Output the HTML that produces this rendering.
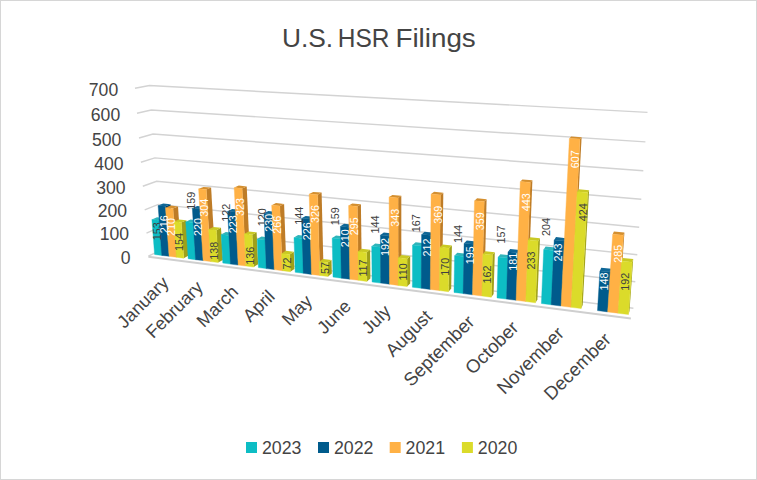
<!DOCTYPE html>
<html><head><meta charset="utf-8"><style>
html,body{margin:0;padding:0;background:#fff}
body{width:757px;height:480px;overflow:hidden;position:relative}
svg{position:absolute;left:0;top:0;font-family:"Liberation Sans",sans-serif}
.frame{position:absolute;left:0;top:0;width:755px;height:478px;border:1px solid #d6d6d6}
</style></head><body>
<svg width="757" height="480" viewBox="0 0 757 480">
<polyline points="148.4,256.2 161.7,249.7 633.4,308.3" fill="none" stroke="#d3d3d3" stroke-width="1.45"/>
<polyline points="146.5,233.2 160.0,227.2 635.3,281.7" fill="none" stroke="#d3d3d3" stroke-width="1.45"/>
<polyline points="144.7,209.9 158.3,204.4 637.3,254.7" fill="none" stroke="#d3d3d3" stroke-width="1.45"/>
<polyline points="142.8,186.3 156.6,181.3 639.2,227.2" fill="none" stroke="#d3d3d3" stroke-width="1.45"/>
<polyline points="140.9,162.3 154.8,157.9 641.3,199.3" fill="none" stroke="#d3d3d3" stroke-width="1.45"/>
<polyline points="139.0,138.0 153.0,134.1 643.3,170.8" fill="none" stroke="#d3d3d3" stroke-width="1.45"/>
<polyline points="137.0,113.3 151.2,110.0 645.4,141.9" fill="none" stroke="#d3d3d3" stroke-width="1.45"/>
<polyline points="135.0,88.3 149.4,85.6 647.5,112.4" fill="none" stroke="#d3d3d3" stroke-width="1.45"/>
<line x1="148.4" y1="256.7" x2="630.9" y2="318.4" stroke="#cfcfcf" stroke-width="2"/>
<polygon points="161.8,255.4 166.8,252.9 164.2,218.0 159.2,220.2" fill="#0b8f95"/>
<polygon points="151.9,219.4 157.0,217.2 164.2,218.0 159.2,220.2" fill="#2fb4ba"/>
<polygon points="154.6,254.5 151.9,219.4 159.2,220.2 161.8,255.4" fill="#0dbdc4" stroke="#0dbdc4" stroke-width="0.4"/>
<polygon points="169.1,256.3 174.0,253.8 170.5,204.2 165.4,206.3" fill="#00426a"/>
<polygon points="158.1,205.5 163.2,203.4 170.5,204.2 165.4,206.3" fill="#0f6797"/>
<polygon points="161.8,255.4 158.1,205.5 165.4,206.3 169.1,256.3" fill="#005b8c" stroke="#005b8c" stroke-width="0.4"/>
<polygon points="176.4,257.2 181.3,254.7 178.0,206.4 173.0,208.5" fill="#be7c27"/>
<polygon points="165.5,207.7 170.6,205.6 178.0,206.4 173.0,208.5" fill="#d48f2f"/>
<polygon points="169.1,256.3 165.5,207.7 173.0,208.5 176.4,257.2" fill="#ffb145" stroke="#ffb145" stroke-width="0.4"/>
<polygon points="183.8,258.2 188.6,255.6 186.3,220.2 181.3,222.5" fill="#9fa019"/>
<polygon points="173.9,221.6 178.9,219.4 186.3,220.2 181.3,222.5" fill="#c9c924"/>
<polygon points="176.4,257.2 173.9,221.6 181.3,222.5 183.8,258.2" fill="#dbdb2a" stroke="#dbdb2a" stroke-width="0.4"/>
<polygon points="195.6,259.7 200.4,257.1 198.1,220.4 193.2,222.6" fill="#0b8f95"/>
<polygon points="185.7,221.8 190.6,219.6 198.1,220.4 193.2,222.6" fill="#2fb4ba"/>
<polygon points="188.2,258.7 185.7,221.8 193.2,222.6 195.6,259.7" fill="#0dbdc4" stroke="#0dbdc4" stroke-width="0.4"/>
<polygon points="203.1,260.6 207.8,258.0 204.7,206.8 199.9,209.0" fill="#00426a"/>
<polygon points="192.3,208.2 197.2,206.1 204.7,206.8 199.9,209.0" fill="#0f6797"/>
<polygon points="195.6,259.7 192.3,208.2 199.9,209.0 203.1,260.6" fill="#005b8c" stroke="#005b8c" stroke-width="0.4"/>
<polygon points="210.7,261.6 215.3,259.0 211.1,187.6 206.3,189.6" fill="#be7c27"/>
<polygon points="198.6,188.8 203.5,186.9 211.1,187.6 206.3,189.6" fill="#d48f2f"/>
<polygon points="203.1,260.6 198.6,188.8 206.3,189.6 210.7,261.6" fill="#ffb145" stroke="#ffb145" stroke-width="0.4"/>
<polygon points="218.2,262.5 222.9,259.9 221.0,227.8 216.4,230.2" fill="#9fa019"/>
<polygon points="208.7,229.3 213.4,227.0 221.0,227.8 216.4,230.2" fill="#c9c924"/>
<polygon points="210.7,261.6 208.7,229.3 216.4,230.2 218.2,262.5" fill="#dbdb2a" stroke="#dbdb2a" stroke-width="0.4"/>
<polygon points="230.5,264.1 235.0,261.4 233.5,233.0 228.9,235.4" fill="#0b8f95"/>
<polygon points="221.2,234.5 225.8,232.1 233.5,233.0 228.9,235.4" fill="#2fb4ba"/>
<polygon points="222.8,263.1 221.2,234.5 228.9,235.4 230.5,264.1" fill="#0dbdc4" stroke="#0dbdc4" stroke-width="0.4"/>
<polygon points="238.2,265.1 242.6,262.4 240.0,209.8 235.4,212.0" fill="#00426a"/>
<polygon points="227.6,211.2 232.2,209.0 240.0,209.8 235.4,212.0" fill="#0f6797"/>
<polygon points="230.5,264.1 227.6,211.2 235.4,212.0 238.2,265.1" fill="#005b8c" stroke="#005b8c" stroke-width="0.4"/>
<polygon points="245.9,266.0 250.3,263.4 246.7,186.4 242.1,188.4" fill="#be7c27"/>
<polygon points="234.2,187.6 238.8,185.6 246.7,186.4 242.1,188.4" fill="#d48f2f"/>
<polygon points="238.2,265.1 234.2,187.6 242.1,188.4 245.9,266.0" fill="#ffb145" stroke="#ffb145" stroke-width="0.4"/>
<polygon points="253.8,267.0 258.1,264.3 256.6,232.3 252.2,234.7" fill="#9fa019"/>
<polygon points="244.4,233.8 248.8,231.4 256.6,232.3 252.2,234.7" fill="#c9c924"/>
<polygon points="245.9,266.0 244.4,233.8 252.2,234.7 253.8,267.0" fill="#dbdb2a" stroke="#dbdb2a" stroke-width="0.4"/>
<polygon points="266.3,268.6 270.6,265.9 269.4,237.5 265.1,240.0" fill="#0b8f95"/>
<polygon points="257.2,239.1 261.5,236.6 269.4,237.5 265.1,240.0" fill="#2fb4ba"/>
<polygon points="258.4,267.6 257.2,239.1 265.1,240.0 266.3,268.6" fill="#0dbdc4" stroke="#0dbdc4" stroke-width="0.4"/>
<polygon points="274.3,269.6 278.5,266.9 276.3,211.9 272.0,214.1" fill="#00426a"/>
<polygon points="264.0,213.3 268.3,211.0 276.3,211.9 272.0,214.1" fill="#0f6797"/>
<polygon points="266.3,268.6 264.0,213.3 272.0,214.1 274.3,269.6" fill="#005b8c" stroke="#005b8c" stroke-width="0.4"/>
<polygon points="282.3,270.7 286.4,267.9 284.1,203.9 279.8,206.1" fill="#be7c27"/>
<polygon points="271.7,205.3 276.0,203.1 284.1,203.9 279.8,206.1" fill="#d48f2f"/>
<polygon points="274.3,269.6 271.7,205.3 279.8,206.1 282.3,270.7" fill="#ffb145" stroke="#ffb145" stroke-width="0.4"/>
<polygon points="290.3,271.7 294.4,268.9 293.8,251.8 289.7,254.4" fill="#9fa019"/>
<polygon points="281.6,253.4 285.8,250.8 293.8,251.8 289.7,254.4" fill="#c9c924"/>
<polygon points="282.3,270.7 281.6,253.4 289.7,254.4 290.3,271.7" fill="#dbdb2a" stroke="#dbdb2a" stroke-width="0.4"/>
<polygon points="303.3,273.3 307.3,270.5 306.2,235.9 302.2,238.4" fill="#0b8f95"/>
<polygon points="294.0,237.5 298.1,235.0 306.2,235.9 302.2,238.4" fill="#2fb4ba"/>
<polygon points="295.2,272.3 294.0,237.5 302.2,238.4 303.3,273.3" fill="#0dbdc4" stroke="#0dbdc4" stroke-width="0.4"/>
<polygon points="311.5,274.4 315.4,271.5 313.9,216.7 309.9,219.1" fill="#00426a"/>
<polygon points="301.6,218.2 305.6,215.9 313.9,216.7 309.9,219.1" fill="#0f6797"/>
<polygon points="303.3,273.3 301.6,218.2 309.9,219.1 311.5,274.4" fill="#005b8c" stroke="#005b8c" stroke-width="0.4"/>
<polygon points="319.8,275.4 323.6,272.6 321.6,192.6 317.6,194.8" fill="#be7c27"/>
<polygon points="309.2,194.0 313.2,191.9 321.6,192.6 317.6,194.8" fill="#d48f2f"/>
<polygon points="311.5,274.4 309.2,194.0 317.6,194.8 319.8,275.4" fill="#ffb145" stroke="#ffb145" stroke-width="0.4"/>
<polygon points="328.1,276.5 331.8,273.6 331.5,259.9 327.7,262.6" fill="#9fa019"/>
<polygon points="319.4,261.6 323.2,258.9 331.5,259.9 327.7,262.6" fill="#c9c924"/>
<polygon points="319.8,275.4 319.4,261.6 327.7,262.6 328.1,276.5" fill="#dbdb2a" stroke="#dbdb2a" stroke-width="0.4"/>
<polygon points="341.4,278.2 345.1,275.3 344.4,236.5 340.7,239.0" fill="#0b8f95"/>
<polygon points="332.2,238.1 336.0,235.5 344.4,236.5 340.7,239.0" fill="#2fb4ba"/>
<polygon points="333.0,277.1 332.2,238.1 340.7,239.0 341.4,278.2" fill="#0dbdc4" stroke="#0dbdc4" stroke-width="0.4"/>
<polygon points="349.9,279.2 353.5,276.3 352.7,224.7 349.0,227.2" fill="#00426a"/>
<polygon points="340.4,226.3 344.1,223.8 352.7,224.7 349.0,227.2" fill="#0f6797"/>
<polygon points="341.4,278.2 340.4,226.3 349.0,227.2 349.9,279.2" fill="#005b8c" stroke="#005b8c" stroke-width="0.4"/>
<polygon points="358.4,280.3 361.9,277.4 360.9,204.2 357.3,206.5" fill="#be7c27"/>
<polygon points="348.6,205.6 352.3,203.4 360.9,204.2 357.3,206.5" fill="#d48f2f"/>
<polygon points="349.9,279.2 348.6,205.6 357.3,206.5 358.4,280.3" fill="#ffb145" stroke="#ffb145" stroke-width="0.4"/>
<polygon points="366.9,281.4 370.4,278.4 370.1,249.7 366.6,252.4" fill="#9fa019"/>
<polygon points="358.0,251.4 361.5,248.7 370.1,249.7 366.6,252.4" fill="#c9c924"/>
<polygon points="358.4,280.3 358.0,251.4 366.6,252.4 366.9,281.4" fill="#dbdb2a" stroke="#dbdb2a" stroke-width="0.4"/>
<polygon points="380.7,283.1 384.1,280.1 383.9,244.6 380.5,247.2" fill="#0b8f95"/>
<polygon points="371.7,246.2 375.2,243.6 383.9,244.6 380.5,247.2" fill="#2fb4ba"/>
<polygon points="372.1,282.0 371.7,246.2 380.5,247.2 380.7,283.1" fill="#0dbdc4" stroke="#0dbdc4" stroke-width="0.4"/>
<polygon points="389.5,284.2 392.7,281.2 392.5,233.5 389.2,236.0" fill="#00426a"/>
<polygon points="380.4,235.1 383.8,232.5 392.5,233.5 389.2,236.0" fill="#0f6797"/>
<polygon points="380.7,283.1 380.4,235.1 389.2,236.0 389.5,284.2" fill="#005b8c" stroke="#005b8c" stroke-width="0.4"/>
<polygon points="398.2,285.4 401.4,282.3 401.3,195.7 398.1,197.9" fill="#be7c27"/>
<polygon points="389.1,197.1 392.4,194.9 401.3,195.7 398.1,197.9" fill="#d48f2f"/>
<polygon points="389.5,284.2 389.1,197.1 398.1,197.9 398.2,285.4" fill="#ffb145" stroke="#ffb145" stroke-width="0.4"/>
<polygon points="407.1,286.5 410.2,283.4 410.2,256.1 407.1,258.9" fill="#9fa019"/>
<polygon points="398.2,257.8 401.4,255.0 410.2,256.1 407.1,258.9" fill="#c9c924"/>
<polygon points="398.2,285.4 398.2,257.8 407.1,258.9 407.1,286.5" fill="#dbdb2a" stroke="#dbdb2a" stroke-width="0.4"/>
<polygon points="421.3,288.3 424.3,285.2 424.6,243.2 421.5,246.0" fill="#0b8f95"/>
<polygon points="412.5,245.0 415.6,242.3 424.6,243.2 421.5,246.0" fill="#2fb4ba"/>
<polygon points="412.4,287.2 412.5,245.0 421.5,246.0 421.3,288.3" fill="#0dbdc4" stroke="#0dbdc4" stroke-width="0.4"/>
<polygon points="430.3,289.4 433.2,286.3 433.7,232.7 430.8,235.3" fill="#00426a"/>
<polygon points="421.6,234.4 424.6,231.8 433.7,232.7 430.8,235.3" fill="#0f6797"/>
<polygon points="421.3,288.3 421.6,234.4 430.8,235.3 430.3,289.4" fill="#005b8c" stroke="#005b8c" stroke-width="0.4"/>
<polygon points="439.4,290.6 442.2,287.4 443.3,192.7 440.4,194.9" fill="#be7c27"/>
<polygon points="431.1,194.1 434.1,191.8 443.3,192.7 440.4,194.9" fill="#d48f2f"/>
<polygon points="430.3,289.4 431.1,194.1 440.4,194.9 439.4,290.6" fill="#ffb145" stroke="#ffb145" stroke-width="0.4"/>
<polygon points="448.5,291.7 451.2,288.6 451.9,245.5 449.1,248.2" fill="#9fa019"/>
<polygon points="439.9,247.2 442.7,244.5 451.9,245.5 449.1,248.2" fill="#c9c924"/>
<polygon points="439.4,290.6 439.9,247.2 449.1,248.2 448.5,291.7" fill="#dbdb2a" stroke="#dbdb2a" stroke-width="0.4"/>
<polygon points="463.2,293.6 465.8,290.4 466.5,253.8 463.9,256.6" fill="#0b8f95"/>
<polygon points="454.6,255.6 457.3,252.7 466.5,253.8 463.9,256.6" fill="#2fb4ba"/>
<polygon points="454.0,292.4 454.6,255.6 463.9,256.6 463.2,293.6" fill="#0dbdc4" stroke="#0dbdc4" stroke-width="0.4"/>
<polygon points="472.5,294.8 475.0,291.6 476.1,241.6 473.6,244.3" fill="#00426a"/>
<polygon points="464.1,243.3 466.8,240.6 476.1,241.6 473.6,244.3" fill="#0f6797"/>
<polygon points="463.2,293.6 464.1,243.3 473.6,244.3 472.5,294.8" fill="#005b8c" stroke="#005b8c" stroke-width="0.4"/>
<polygon points="481.9,296.0 484.3,292.7 486.6,199.2 484.2,201.5" fill="#be7c27"/>
<polygon points="474.5,200.7 477.1,198.3 486.6,199.2 484.2,201.5" fill="#d48f2f"/>
<polygon points="472.5,294.8 474.5,200.7 484.2,201.5 481.9,296.0" fill="#ffb145" stroke="#ffb145" stroke-width="0.4"/>
<polygon points="491.3,297.2 493.6,293.9 494.8,252.2 492.4,255.1" fill="#9fa019"/>
<polygon points="482.9,254.0 485.3,251.2 494.8,252.2 492.4,255.1" fill="#c9c924"/>
<polygon points="481.9,296.0 482.9,254.0 492.4,255.1 491.3,297.2" fill="#dbdb2a" stroke="#dbdb2a" stroke-width="0.4"/>
<polygon points="506.5,299.1 508.7,295.8 510.0,255.2 507.8,258.1" fill="#0b8f95"/>
<polygon points="498.1,257.1 500.4,254.2 510.0,255.2 507.8,258.1" fill="#2fb4ba"/>
<polygon points="497.0,297.9 498.1,257.1 507.8,258.1 506.5,299.1" fill="#0dbdc4" stroke="#0dbdc4" stroke-width="0.4"/>
<polygon points="516.1,300.3 518.2,297.0 519.9,250.0 517.8,252.8" fill="#00426a"/>
<polygon points="508.0,251.8 510.2,248.9 519.9,250.0 517.8,252.8" fill="#0f6797"/>
<polygon points="506.5,299.1 508.0,251.8 517.8,252.8 516.1,300.3" fill="#005b8c" stroke="#005b8c" stroke-width="0.4"/>
<polygon points="525.8,301.5 527.8,298.2 532.4,180.2 530.3,182.4" fill="#be7c27"/>
<polygon points="520.3,181.6 522.4,179.4 532.4,180.2 530.3,182.4" fill="#d48f2f"/>
<polygon points="516.1,300.3 520.3,181.6 530.3,182.4 525.8,301.5" fill="#ffb145" stroke="#ffb145" stroke-width="0.4"/>
<polygon points="535.5,302.8 537.4,299.4 540.0,238.2 538.1,241.0" fill="#9fa019"/>
<polygon points="528.1,240.0 530.1,237.2 540.0,238.2 538.1,241.0" fill="#c9c924"/>
<polygon points="525.8,301.5 528.1,240.0 538.1,241.0 535.5,302.8" fill="#dbdb2a" stroke="#dbdb2a" stroke-width="0.4"/>
<polygon points="551.2,304.8 553.0,301.3 555.5,247.6 553.7,250.5" fill="#0b8f95"/>
<polygon points="543.7,249.4 545.6,246.6 555.5,247.6 553.7,250.5" fill="#2fb4ba"/>
<polygon points="541.4,303.5 543.7,249.4 553.7,250.5 551.2,304.8" fill="#0dbdc4" stroke="#0dbdc4" stroke-width="0.4"/>
<polygon points="561.1,306.0 562.8,302.6 566.0,238.2 564.4,241.0" fill="#00426a"/>
<polygon points="554.2,239.9 556.0,237.1 566.0,238.2 564.4,241.0" fill="#0f6797"/>
<polygon points="551.2,304.8 554.2,239.9 564.4,241.0 561.1,306.0" fill="#005b8c" stroke="#005b8c" stroke-width="0.4"/>
<polygon points="571.1,307.3 572.7,303.8 581.6,137.3 580.0,139.1" fill="#be7c27"/>
<polygon points="569.4,138.4 571.1,136.6 581.6,137.3 580.0,139.1" fill="#d48f2f"/>
<polygon points="561.1,306.0 569.4,138.4 580.0,139.1 571.1,307.3" fill="#ffb145" stroke="#ffb145" stroke-width="0.4"/>
<polygon points="581.2,308.6 582.7,305.1 589.1,190.2 587.7,192.5" fill="#9fa019"/>
<polygon points="577.2,191.7 578.8,189.3 589.1,190.2 587.7,192.5" fill="#c9c924"/>
<polygon points="571.1,307.3 577.2,191.7 587.7,192.5 581.2,308.6" fill="#dbdb2a" stroke="#dbdb2a" stroke-width="0.4"/>
<polygon points="607.7,311.9 608.9,308.4 611.5,268.8 610.3,272.0" fill="#00426a"/>
<polygon points="599.9,270.9 601.2,267.7 611.5,268.8 610.3,272.0" fill="#0f6797"/>
<polygon points="597.5,310.6 599.9,270.9 610.3,272.0 607.7,311.9" fill="#005b8c" stroke="#005b8c" stroke-width="0.4"/>
<polygon points="618.1,313.2 619.2,309.6 624.4,232.4 623.4,235.2" fill="#be7c27"/>
<polygon points="612.7,234.2 613.9,231.4 624.4,232.4 623.4,235.2" fill="#d48f2f"/>
<polygon points="607.7,311.9 612.7,234.2 623.4,235.2 618.1,313.2" fill="#ffb145" stroke="#ffb145" stroke-width="0.4"/>
<polygon points="628.5,314.6 629.5,310.9 633.2,259.1 632.2,262.2" fill="#9fa019"/>
<polygon points="621.6,261.1 622.7,258.0 633.2,259.1 632.2,262.2" fill="#c9c924"/>
<polygon points="618.1,313.2 621.6,261.1 632.2,262.2 628.5,314.6" fill="#dbdb2a" stroke="#dbdb2a" stroke-width="0.4"/>
<text transform="translate(157.7,222.3) rotate(-90)" font-size="10.8" text-anchor="end" fill="#404040" dy="0.35em">153</text>
<text transform="translate(164.2,215.3) rotate(-90)" font-size="10.8" text-anchor="end" fill="#ffffff" dy="0.35em">216</text>
<text transform="translate(171.2,218.1) rotate(-90)" font-size="10.8" text-anchor="end" fill="#ffffff" dy="0.35em">210</text>
<text transform="translate(179.6,233.1) rotate(-90)" font-size="10.8" text-anchor="end" fill="#404040" dy="0.35em">154</text>
<text transform="translate(190.8,209.7) rotate(-90)" font-size="10.8" text-anchor="start" fill="#404040" dy="0.35em">159</text>
<text transform="translate(198.1,218.1) rotate(-90)" font-size="10.8" text-anchor="end" fill="#ffffff" dy="0.35em">220</text>
<text transform="translate(204.5,198.7) rotate(-90)" font-size="10.8" text-anchor="end" fill="#ffffff" dy="0.35em">304</text>
<text transform="translate(214.5,241.7) rotate(-90)" font-size="10.8" text-anchor="end" fill="#404040" dy="0.35em">138</text>
<text transform="translate(225.8,221.7) rotate(-90)" font-size="10.8" text-anchor="start" fill="#404040" dy="0.35em">122</text>
<text transform="translate(233.5,215.3) rotate(-90)" font-size="10.8" text-anchor="end" fill="#ffffff" dy="0.35em">223</text>
<text transform="translate(240.1,198.0) rotate(-90)" font-size="10.8" text-anchor="end" fill="#ffffff" dy="0.35em">323</text>
<text transform="translate(250.3,246.7) rotate(-90)" font-size="10.8" text-anchor="end" fill="#404040" dy="0.35em">136</text>
<text transform="translate(262.0,226.3) rotate(-90)" font-size="10.8" text-anchor="start" fill="#404040" dy="0.35em">120</text>
<text transform="translate(269.2,213.7) rotate(-90)" font-size="10.8" text-anchor="end" fill="#ffffff" dy="0.35em">230</text>
<text transform="translate(277.1,215.7) rotate(-90)" font-size="10.8" text-anchor="end" fill="#ffffff" dy="0.35em">266</text>
<text transform="translate(287.2,257.6) rotate(-90)" font-size="10.8" text-anchor="end" fill="#404040" dy="0.35em">72</text>
<text transform="translate(298.9,224.7) rotate(-90)" font-size="10.8" text-anchor="start" fill="#404040" dy="0.35em">144</text>
<text transform="translate(307.1,222.3) rotate(-90)" font-size="10.8" text-anchor="end" fill="#ffffff" dy="0.35em">226</text>
<text transform="translate(315.4,205.1) rotate(-90)" font-size="10.8" text-anchor="end" fill="#ffffff" dy="0.35em">326</text>
<text transform="translate(325.5,262.1) rotate(-90)" font-size="10.8" text-anchor="end" fill="#404040" dy="0.35em">57</text>
<text transform="translate(334.9,225.3) rotate(-90)" font-size="10.8" text-anchor="start" fill="#404040" dy="0.35em">159</text>
<text transform="translate(345.2,229.2) rotate(-90)" font-size="10.8" text-anchor="end" fill="#ffffff" dy="0.35em">210</text>
<text transform="translate(354.5,217.2) rotate(-90)" font-size="10.8" text-anchor="end" fill="#ffffff" dy="0.35em">295</text>
<text transform="translate(363.5,259.4) rotate(-90)" font-size="10.8" text-anchor="end" fill="#404040" dy="0.35em">117</text>
<text transform="translate(375.6,233.5) rotate(-90)" font-size="10.8" text-anchor="start" fill="#404040" dy="0.35em">144</text>
<text transform="translate(385.6,238.1) rotate(-90)" font-size="10.8" text-anchor="end" fill="#ffffff" dy="0.35em">192</text>
<text transform="translate(395.6,208.7) rotate(-90)" font-size="10.8" text-anchor="end" fill="#ffffff" dy="0.35em">343</text>
<text transform="translate(403.6,263.3) rotate(-90)" font-size="10.8" text-anchor="end" fill="#404040" dy="0.35em">110</text>
<text transform="translate(416.0,232.3) rotate(-90)" font-size="10.8" text-anchor="start" fill="#404040" dy="0.35em">167</text>
<text transform="translate(427.0,238.5) rotate(-90)" font-size="10.8" text-anchor="end" fill="#ffffff" dy="0.35em">212</text>
<text transform="translate(437.8,205.7) rotate(-90)" font-size="10.8" text-anchor="end" fill="#ffffff" dy="0.35em">369</text>
<text transform="translate(445.5,257.7) rotate(-90)" font-size="10.8" text-anchor="end" fill="#404040" dy="0.35em">170</text>
<text transform="translate(458.7,242.9) rotate(-90)" font-size="10.8" text-anchor="start" fill="#404040" dy="0.35em">144</text>
<text transform="translate(469.9,246.3) rotate(-90)" font-size="10.8" text-anchor="end" fill="#ffffff" dy="0.35em">195</text>
<text transform="translate(480.3,212.3) rotate(-90)" font-size="10.8" text-anchor="end" fill="#ffffff" dy="0.35em">359</text>
<text transform="translate(487.7,265.6) rotate(-90)" font-size="10.8" text-anchor="end" fill="#404040" dy="0.35em">162</text>
<text transform="translate(501.7,243.6) rotate(-90)" font-size="10.8" text-anchor="start" fill="#404040" dy="0.35em">157</text>
<text transform="translate(512.9,252.8) rotate(-90)" font-size="10.8" text-anchor="end" fill="#ffffff" dy="0.35em">181</text>
<text transform="translate(525.8,193.2) rotate(-90)" font-size="10.8" text-anchor="end" fill="#ffffff" dy="0.35em">443</text>
<text transform="translate(531.3,251.5) rotate(-90)" font-size="10.8" text-anchor="end" fill="#404040" dy="0.35em">233</text>
<text transform="translate(546.7,236.0) rotate(-90)" font-size="10.8" text-anchor="start" fill="#404040" dy="0.35em">204</text>
<text transform="translate(557.8,243.5) rotate(-90)" font-size="10.8" text-anchor="end" fill="#ffffff" dy="0.35em">243</text>
<text transform="translate(575.5,150.3) rotate(-90)" font-size="10.8" text-anchor="end" fill="#ffffff" dy="0.35em">607</text>
<text transform="translate(583.0,203.3) rotate(-90)" font-size="10.8" text-anchor="end" fill="#404040" dy="0.35em">424</text>
<text transform="translate(604.1,272.4) rotate(-90)" font-size="10.8" text-anchor="end" fill="#ffffff" dy="0.35em">148</text>
<text transform="translate(618.5,244.7) rotate(-90)" font-size="10.8" text-anchor="end" fill="#ffffff" dy="0.35em">285</text>
<text transform="translate(625.1,272.7) rotate(-90)" font-size="10.8" text-anchor="end" fill="#404040" dy="0.35em">192</text>
<text x="130.6" y="263.7" font-size="17.6" text-anchor="end" fill="#444">0</text>
<text x="129.1" y="240.4" font-size="17.6" text-anchor="end" fill="#444">100</text>
<text x="127.0" y="217.0" font-size="17.6" text-anchor="end" fill="#444">200</text>
<text x="125.6" y="193.7" font-size="17.6" text-anchor="end" fill="#444">300</text>
<text x="123.5" y="169.6" font-size="17.6" text-anchor="end" fill="#444">400</text>
<text x="121.4" y="145.6" font-size="17.6" text-anchor="end" fill="#444">500</text>
<text x="120.2" y="120.9" font-size="17.6" text-anchor="end" fill="#444">600</text>
<text x="118.2" y="95.9" font-size="17.6" text-anchor="end" fill="#444">700</text>
<text transform="translate(169.8,284.0) rotate(-45)" font-size="18.0" text-anchor="end" fill="#444">January</text>
<text transform="translate(204.1,288.4) rotate(-45)" font-size="18.0" text-anchor="end" fill="#444">February</text>
<text transform="translate(239.4,292.9) rotate(-45)" font-size="18.0" text-anchor="end" fill="#444">March</text>
<text transform="translate(275.8,297.6) rotate(-45)" font-size="18.0" text-anchor="end" fill="#444">April</text>
<text transform="translate(313.3,302.4) rotate(-45)" font-size="18.0" text-anchor="end" fill="#444">May</text>
<text transform="translate(352.0,307.3) rotate(-45)" font-size="18.0" text-anchor="end" fill="#444">June</text>
<text transform="translate(391.9,312.4) rotate(-45)" font-size="18.0" text-anchor="end" fill="#444">July</text>
<text transform="translate(433.1,317.7) rotate(-45)" font-size="18.2" text-anchor="end" fill="#444">August</text>
<text transform="translate(475.6,323.1) rotate(-45)" font-size="18.6" text-anchor="end" fill="#444">September</text>
<text transform="translate(519.6,328.8) rotate(-45)" font-size="18.6" text-anchor="end" fill="#444">October</text>
<text transform="translate(565.1,334.6) rotate(-45)" font-size="18.6" text-anchor="end" fill="#444">November</text>
<text transform="translate(612.2,340.6) rotate(-45)" font-size="18.6" text-anchor="end" fill="#444">December</text>
<text x="282" y="46.9" font-size="26.3" fill="#444" textLength="51.2" lengthAdjust="spacingAndGlyphs">U.S.</text>
<text x="337.8" y="46.9" font-size="26.3" fill="#444" textLength="51.7" lengthAdjust="spacingAndGlyphs">HSR</text>
<text x="395.4" y="46.9" font-size="26.3" fill="#444" textLength="80.4" lengthAdjust="spacingAndGlyphs">Filings</text>
<rect x="246.0" y="442" width="11" height="11" fill="#0dbdc4"/>
<text x="261.9" y="454.3" font-size="17.8" fill="#444">2023</text>
<rect x="318.0" y="442" width="11" height="11" fill="#005b8c"/>
<text x="333.9" y="454.3" font-size="17.8" fill="#444">2022</text>
<rect x="389.7" y="442" width="11" height="11" fill="#ffb145"/>
<text x="405.6" y="454.3" font-size="17.8" fill="#444">2021</text>
<rect x="461.9" y="442" width="11" height="11" fill="#dbdb2a"/>
<text x="477.8" y="454.3" font-size="17.8" fill="#444">2020</text>
</svg>
<div class="frame"></div>
</body></html>
